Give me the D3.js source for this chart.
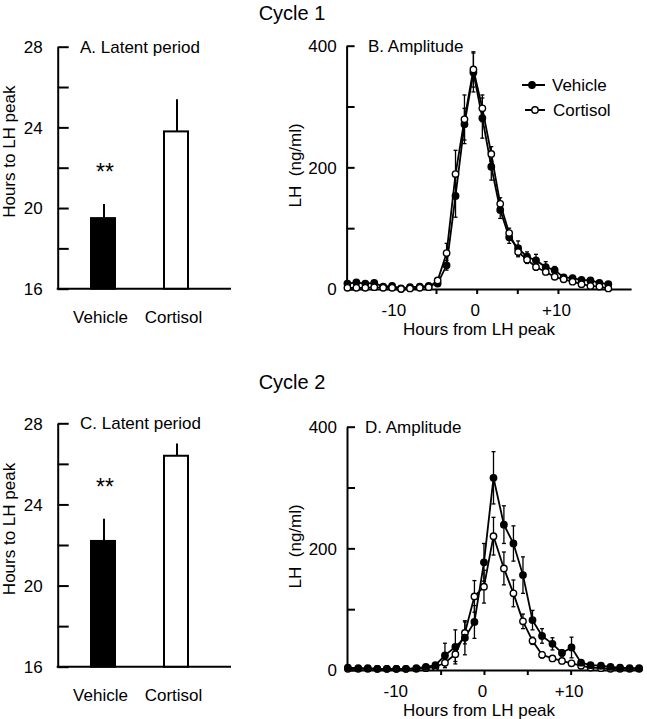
<!DOCTYPE html>
<html><head><meta charset="utf-8">
<script src="https://cdn.jsdelivr.net/npm/d3@7"></script>
<style>
body{margin:0;background:#fff}
svg{display:block}
text{font-family:"Liberation Sans",Arial,Helvetica,sans-serif;fill:#000}
</style>
</head><body><svg id="c" width="647" height="719"></svg>
<script>
// ---------- data ----------
const groups = ["Vehicle", "Cortisol"];
const latentA = [19.5, 23.8];
const latentAErr = [0.7, 1.6];
const latentC = [22.2, 26.4];
const latentCErr = [1.1, 0.6];
const barTicks = [16, 18, 20, 22, 24, 26, 28];
const barTickLabels = [16, 20, 24, 28];

const lhTicks = [0, 100, 200, 300, 400];
const lhTickLabels = [0, 200, 400];
const hourTicks = [-5, 0, 5, 10];
const hourTickLabels = [-10, 0, 10];

const hoursB = [-15.9,-14.8,-13.7,-12.6,-11.5,-10.4,-9.3,-8.2,-7.0,-5.9,-4.8,-3.7,-2.6,-1.5,-0.4,0.7,1.8,2.9,4.0,5.1,6.2,7.3,8.5,9.6,10.7,11.8,12.9,14.0,15.1,16.2];
const vehicleB = [9,11,9,10,4,5,1,3,4,5,9,39,153,271,356,281,201,130,85,67,53,47,36,31,19,18,15,14,10,8];
const vehicleBErr = [0,0,0,0,0,0,0,0,0,0,3,8,35,26,32,33,22,14,10,12,8,10,9,6,4,4,3,3,2,2];
const cortisolB = [2,2,2,3,2,2,0,1,2,3,14,59,189,279,361,297,222,140,92,61,48,36,28,20,16,12,8,5,4,1];
const cortisolBErr = [0,0,0,0,0,0,0,0,0,0,3,16,39,40,29,22,12,10,8,8,6,5,4,3,3,2,2,1,1,1];

const hoursD = [-15.7,-14.5,-13.4,-12.3,-11.2,-10.1,-9.0,-7.8,-6.7,-5.6,-4.5,-3.3,-2.2,-1.1,0.0,1.1,2.3,3.4,4.5,5.6,6.7,7.9,9.0,10.1,11.2,12.3,13.5,14.6,15.7,16.8,17.9];
const vehicleD = [4,3,3,2,2,2,2,3,5,8,24,38,53,79,177,316,239,208,156,82,56,43,28,37,12,8,7,5,4,3,3];
const vehicleDErr = [0,0,0,0,0,0,0,0,0,3,20,28,28,27,31,43,31,29,30,16,12,10,5,17,4,2,2,1,1,1,1];
const cortisolD = [2,2,2,2,2,2,2,2,3,5,12,26,61,121,137,220,167,126,80,48,25,19,15,11,7,4,3,2,2,2,2];
const cortisolDErr = [0,0,0,0,0,0,0,0,0,2,8,12,18,26,27,31,27,22,12,6,5,4,3,2,2,1,1,1,1,1,1];

// ---------- drawing ----------
const svg = d3.select("#c");
const FS = 17;

svg.append("text").attr("x", 292).attr("y", 20).attr("text-anchor", "middle")
  .attr("font-size", 20).text("Cycle 1");
svg.append("text").attr("x", 292).attr("y", 389).attr("text-anchor", "middle")
  .attr("font-size", 20).text("Cycle 2");

function barPanel(cfg) {
  const g = svg.append("g");
  const y = d3.scaleLinear().domain([16, 28]).range([cfg.y0, cfg.y1]);
  const x = d3.scalePoint().domain(groups).range([103, 176]);
  const bw = 24;
  const axisX = 57.7;

  const ya = d3.axisLeft(y).tickValues(barTicks).tickSizeInner(-11).tickSizeOuter(0)
    .tickPadding(15).tickFormat(d => barTickLabels.includes(d) ? d : "");
  const yg = g.append("g").attr("transform", `translate(${axisX},0)`).call(ya);
  yg.selectAll("path,line").attr("stroke", "#000").attr("stroke-width", 2);
  yg.selectAll("text").attr("font-size", FS).attr("font-family", null).attr("dy", "0.35em");

  g.append("line").attr("x1", axisX - 1).attr("x2", 231).attr("y1", y(16)).attr("y2", y(16))
    .attr("stroke", "#000").attr("stroke-width", 2);

  // bars
  g.selectAll("rect.bar").data(groups).join("rect")
    .attr("x", d => x(d) - bw / 2)
    .attr("y", (d, i) => y(cfg.values[i]))
    .attr("width", bw)
    .attr("height", (d, i) => y(16) - y(cfg.values[i]))
    .attr("fill", (d, i) => i === 0 ? "#000" : "#fff")
    .attr("stroke", "#000").attr("stroke-width", 2);
  // error bars (upward)
  g.selectAll("line.err").data(groups).join("line")
    .attr("x1", d => x(d) + 1).attr("x2", d => x(d) + 1)
    .attr("y1", (d, i) => y(cfg.values[i]))
    .attr("y2", (d, i) => y(cfg.values[i] + cfg.errs[i]))
    .attr("stroke", "#000").attr("stroke-width", 2);
  // significance marker
  g.append("text").attr("x", x(groups[0]) + 2).attr("y", y(cfg.values[0] + cfg.errs[0]) - 24)
    .attr("text-anchor", "middle").attr("font-size", 23).text("**");

  const xa = d3.axisBottom(x).tickSize(0).tickPadding(22);
  const xg = g.append("g").attr("transform", `translate(-3,${y(16)})`).call(xa);
  xg.select(".domain").remove();
  xg.selectAll("text").attr("font-size", FS).attr("font-family", null);

  g.append("text").attr("x", 80).attr("y", cfg.y1 + 6).attr("font-size", FS).text(cfg.title);
  g.append("text").attr("transform", `translate(14.5,${(cfg.y0 + cfg.y1) / 2 - 16}) rotate(-90)`)
    .attr("text-anchor", "middle").attr("font-size", FS).text("Hours to LH peak");
}

function linePanel(cfg) {
  const g = svg.append("g");
  const x = d3.scaleLinear().domain(cfg.xDomain).range(cfg.xRange);
  const y = d3.scaleLinear().domain([0, 400]).range([cfg.y0, cfg.y1]);
  const axisX = cfg.xRange[0];

  const ya = d3.axisLeft(y).tickValues(lhTicks).tickSizeInner(-8).tickSizeOuter(0)
    .tickPadding(10).tickFormat(d => lhTickLabels.includes(d) ? d : "");
  const yg = g.append("g").attr("transform", `translate(${axisX},0)`).call(ya);
  yg.selectAll("path,line").attr("stroke", "#000").attr("stroke-width", 2);
  yg.selectAll("text").attr("font-size", FS).attr("font-family", null).attr("dy", "0.35em");

  const xa = d3.axisBottom(x).tickValues(hourTicks).tickSizeInner(5).tickSizeOuter(0).tickFormat("");
  const xg = g.append("g").attr("transform", `translate(0,${cfg.y0})`).call(xa);
  xg.selectAll("path,line").attr("stroke", "#000").attr("stroke-width", 2);

  const xl = d3.axisBottom(x).tickValues(hourTickLabels).tickSize(0).tickPadding(15)
    .tickFormat(d => d > 0 ? "+" + d : d);
  const xlg = g.append("g").attr("transform", `translate(-2,${cfg.y0})`).call(xl);
  xlg.select(".domain").remove();
  xlg.selectAll("text").attr("font-size", FS).attr("font-family", null);

  g.append("text").attr("x", 479).attr("y", cfg.y0 + 46).attr("text-anchor", "middle")
    .attr("font-size", FS).text("Hours from LH peak");
  g.append("text").attr("transform", `translate(301,${(cfg.y0 + cfg.y1) / 2 - 2}) rotate(-90)`)
    .attr("text-anchor", "middle").attr("font-size", FS).attr("xml:space", "preserve")
    .style("white-space", "pre").text("LH  (ng/ml)");
  g.append("text").attr("x", cfg.titleX).attr("y", cfg.y1 + 6).attr("font-size", FS).text(cfg.title);

  const series = [
    {key: "Vehicle", v: cfg.veh, e: cfg.vehErr, fill: "#000"},
    {key: "Cortisol", v: cfg.cor, e: cfg.corErr, fill: "#fff"}
  ];
  const line = d3.line().x(d => x(d[0])).y(d => y(d[1]));
  series.forEach(s => {
    const pts = cfg.hours.map((h, i) => [h, s.v[i], s.e[i]]);
    g.append("path").attr("d", line(pts)).attr("fill", "none")
      .attr("stroke", "#000").attr("stroke-width", 1.8);
    const eb = g.append("g");
    pts.filter(p => p[2] > 0).forEach(p => {
      const cx = x(p[0]);
      eb.append("line").attr("x1", cx).attr("x2", cx)
        .attr("y1", y(p[1] - p[2])).attr("y2", y(p[1] + p[2]))
        .attr("stroke", "#000").attr("stroke-width", 1.3);
      [p[1] - p[2], p[1] + p[2]].forEach(vv => {
        eb.append("line").attr("x1", cx - 2).attr("x2", cx + 2)
          .attr("y1", y(vv)).attr("y2", y(vv))
          .attr("stroke", "#000").attr("stroke-width", 1.3);
      });
    });
  });
  const order = cfg.vehicleOnTop ? [series[1], series[0]] : series;
  order.forEach(s => {
    g.selectAll(null).data(cfg.hours.map((h, i) => [h, s.v[i]])).join("circle")
      .attr("cx", d => x(d[0])).attr("cy", d => y(d[1])).attr("r", 3.2)
      .attr("fill", s.fill).attr("stroke", "#000").attr("stroke-width", 1.4);
  });

  if (cfg.legend) {
    const lg = g.append("g");
    const ly = [85, 110];
    series.forEach((s, i) => {
      lg.append("line").attr("x1", i === 0 ? 522 : 525).attr("x2", 545)
        .attr("y1", ly[i]).attr("y2", ly[i]).attr("stroke", "#000").attr("stroke-width", 2);
      lg.append("circle").attr("cx", i === 0 ? 532 : 535).attr("cy", ly[i]).attr("r", 3.2)
        .attr("fill", s.fill).attr("stroke", "#000").attr("stroke-width", 1.4);
      lg.append("text").attr("x", i === 0 ? 552 : 553).attr("y", ly[i] + 6)
        .attr("font-size", FS).text(s.key);
    });
  }
}

barPanel({y0: 288.7, y1: 46.7, values: latentA, errs: latentAErr, title: "A. Latent period"});
barPanel({y0: 666.7, y1: 423.3, values: latentC, errs: latentCErr, title: "C. Latent period"});

linePanel({xDomain: [-16, 19], xRange: [346.6, 631.1], y0: 289, y1: 45.7,
  hours: hoursB, veh: vehicleB, vehErr: vehicleBErr, cor: cortisolB, corErr: cortisolBErr,
  title: "B. Amplitude", titleX: 368, legend: true, vehicleOnTop: false});
linePanel({xDomain: [-15.8, 18], xRange: [347, 640], y0: 670, y1: 426.7,
  hours: hoursD, veh: vehicleD, vehErr: vehicleDErr, cor: cortisolD, corErr: cortisolDErr,
  title: "D. Amplitude", titleX: 365, legend: false, vehicleOnTop: true});
</script>
</body></html>
